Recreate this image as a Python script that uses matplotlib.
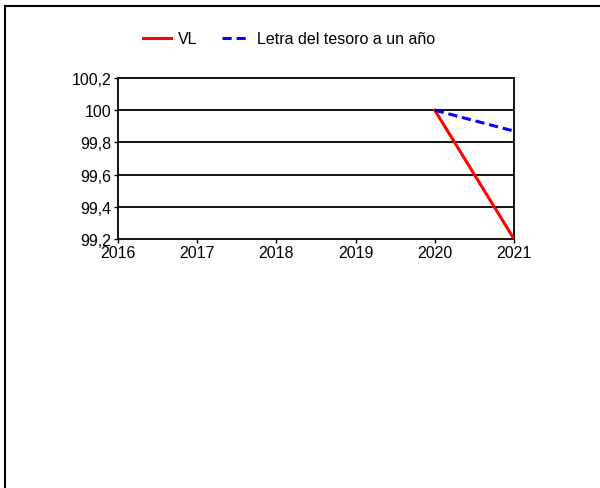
import matplotlib
matplotlib.use("Agg")
import matplotlib.pyplot as plt
from matplotlib.lines import Line2D
from matplotlib.ticker import FuncFormatter

years = [2020, 2021]
vl = [100.0, 99.2]
letra = [100.0, 99.87]
xticks = [2016, 2017, 2018, 2019, 2020, 2021]
yticks = [99.2, 99.4, 99.6, 99.8, 100.0, 100.2]

plt.rcParams['font.family'] = ['Liberation Sans', 'DejaVu Sans']
FS = 11.5

fig = plt.figure(figsize=(6, 4.89), dpi=100)
ax = fig.add_axes([118/600, 1-240/489, (514-118)/600, (240-79)/489])

for y in yticks[1:-1]:
    ax.axhline(y, color='black', lw=1.3, zorder=1)

dash = (0, (3, 1.6))
ax.plot(years, vl, color='#ff0000', lw=2.2, label='VL', zorder=3)
ax.plot(years, letra, color='#0000ff', lw=2.2, ls=dash, label='Letra del tesoro a un año', zorder=3)

ax.set_xlim(2016, 2021)
ax.set_ylim(99.2, 100.2)
ax.set_xticks(xticks)
ax.set_yticks(yticks)
ax.yaxis.set_major_formatter(FuncFormatter(lambda v, p: ('%g' % round(v, 1)).replace('.', ',')))
ax.tick_params(axis='both', labelsize=FS, length=3, width=1, color='black', pad=2)
ax.tick_params(axis='x', pad=1)
for s in ax.spines.values():
    s.set_color('black')
    s.set_linewidth(1.3)

handles = [Line2D([], [], color='#ff0000', lw=2.2),
           Line2D([], [], color='#0000ff', lw=2.2, ls=dash)]
fig.legend(handles, ['VL', 'Letra del tesoro a un año'], loc='center',
           bbox_to_anchor=(289/600, 1-40/489), ncol=2, frameon=False,
           fontsize=FS, handlelength=1.75, columnspacing=1.5, handletextpad=0.45,
           borderpad=0, borderaxespad=0)

# outer frame (top and left edges)
fig.add_artist(Line2D([5/600, 1], [1-7/489, 1-7/489], color='black', lw=1.5, transform=fig.transFigure))
fig.add_artist(Line2D([5/600, 5/600], [0, 1-7/489], color='black', lw=1.5, transform=fig.transFigure))

fig.savefig('out.png', dpi=100)
